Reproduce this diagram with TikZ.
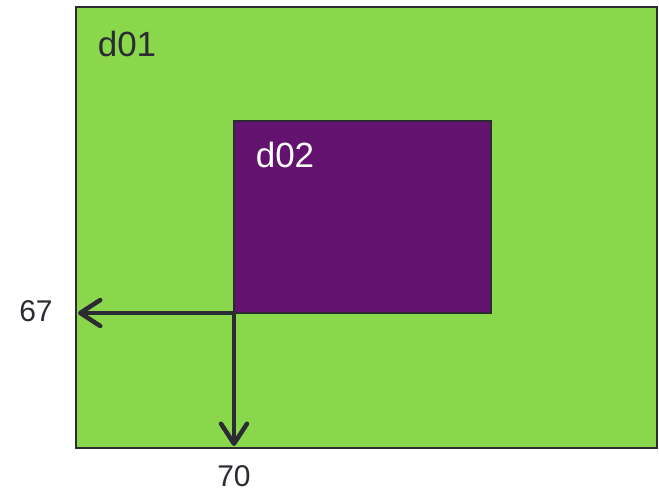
\documentclass[tikz,border=0pt]{standalone}
\usepackage{fontspec}
\setmainfont{Liberation Sans}
\usetikzlibrary{arrows.meta}
\definecolor{lgreen}{HTML}{8AD74C}
\definecolor{dpurple}{HTML}{641270}
\definecolor{edgec}{HTML}{2B2B33}
\begin{document}
\begin{tikzpicture}[x=1pt,y=-1pt,
  box/.style={draw=edgec, line width=2pt, inner sep=0pt, outer sep=0pt, anchor=north west},
  lab/.style={font=\fontsize{35}{42}\selectfont, inner sep=0pt},
  num/.style={font=\fontsize{30}{36}\selectfont, text=edgec, inner sep=0pt},
  arr/.style={draw=edgec, line width=4.5pt, line cap=round, -{Straight Barb[length=20pt, width=26pt, line cap=round, line join=round]}}]
\useasboundingbox (0,0) rectangle (659,492);
\node[box, fill=lgreen, minimum width=581pt, minimum height=441pt] (d01) at (76,7) {};
\node[box, fill=dpurple, minimum width=257pt, minimum height=192pt] (d02) at (234,121) {};
\node[lab, text=edgec] (t01) at (127,44) {d01};
\node[lab, text=white] (t02) at (285,155) {d02};
\coordinate (l) at (78,313);
\coordinate (d) at (234,446);
\draw[arr] (d02.south west) -- (l);
\draw[arr] (d02.south west) -- (d);
\node[num] (n67) at (36,311) {67};
\node[num] (n70) at (234,476) {70};
\end{tikzpicture}
\end{document}
